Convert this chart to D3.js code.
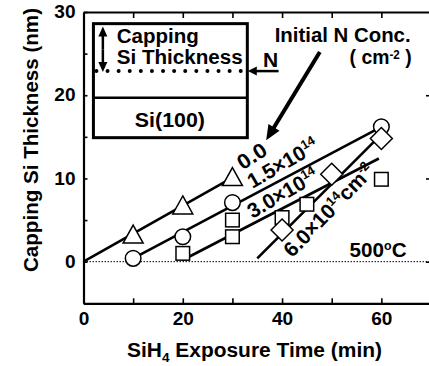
<!DOCTYPE html>
<html><head><meta charset="utf-8">
<script src="https://cdn.jsdelivr.net/npm/d3@7"></script>
<style>
html,body{margin:0;padding:0;background:#fff;}
svg{display:block;}
text{font-family:"Liberation Sans",Arial,Helvetica,sans-serif;font-weight:bold;fill:#000;}
</style></head>
<body>
<script>
// ---- data ----
const triX = [10, 20, 30];
const triY = [3.2, 6.7, 10.1];
const circX = [10, 20, 30, 60];
const circY = [0.4, 3.0, 7.1, 16.2];
const sqX = [20, 30, 30, 40, 45, 60];
const sqY = [1.0, 3.0, 5.0, 5.3, 6.9, 9.9];
const diaX = [40, 50, 60];
const diaY = [3.8, 10.5, 14.8];
// fitted lines (start / end) for each initial N concentration
const lineNames = ["0.0", "1.5", "3.0", "6.0"];
const lineX = [[0, 30], [10, 60], [20, 59.5], [35, 60]];
const lineY = [[0, 10.1], [0.4, 16.2], [0.2, 12.4], [0.4, 15.3]];
const xTicks = [0, 10, 20, 30, 40, 50, 60];
const xTickLabels = [0, 20, 40, 60];
const yTicks = [-5, 0, 5, 10, 15, 20, 25, 30];
const yTickLabels = [0, 10, 20, 30];

const W = 429, H = 366;
const svg = d3.select("body").append("svg").attr("width", W).attr("height", H);
const x = d3.scaleLinear([0, 70], [83.5, 431]);
const y = d3.scaleLinear([-5, 30], [303.3, 12]);

function fit(sel, len) { return sel.attr("textLength", len).attr("lengthAdjust", "spacingAndGlyphs"); }

// zero reference line (dotted)
svg.append("line").attr("x1", x(0)).attr("x2", x(70)).attr("y1", y(0)).attr("y2", y(0))
  .attr("stroke", "#000").attr("stroke-width", 1).attr("stroke-dasharray", "1.5,1.5");

// axes
function styleAxis(g) {
  g.select(".domain").attr("stroke-width", 2.2);
  g.selectAll(".tick line").attr("stroke-width", 1.6);
  g.selectAll("text").attr("font-size", 18).attr("font-family", '"Liberation Sans",Arial,sans-serif').attr("font-weight", "bold");
  g.selectAll("text").each(function () {
    const t = d3.select(this); const s = t.text();
    if (s.length) fit(t, s.length * 10.6);
  });
}
svg.append("g").attr("transform", `translate(0,${y(-5)})`)
  .call(d3.axisBottom(x).tickValues(xTicks).tickSizeInner(-5).tickSizeOuter(0).tickPadding(9)
    .tickFormat(d => xTickLabels.includes(d) ? d : ""))
  .call(styleAxis);
svg.append("g").attr("transform", `translate(${x(0)},0)`)
  .call(d3.axisLeft(y).tickValues(yTicks).tickSizeInner(-4).tickSizeOuter(0).tickPadding(8)
    .tickFormat(d => yTickLabels.includes(d) ? d : ""))
  .call(styleAxis);
svg.append("g").attr("transform", `translate(0,${y(30)})`)
  .call(d3.axisTop(x).tickValues(xTicks.slice(1)).tickSizeInner(-6).tickSizeOuter(0).tickFormat(""))
  .call(styleAxis);
svg.append("g").attr("transform", `translate(${x(70)},0)`)
  .call(d3.axisRight(y).tickValues([0, 10, 20]).tickSizeInner(-5).tickSizeOuter(0).tickFormat(""))
  .call(styleAxis);

// axis titles
const xt = svg.append("text").attr("x", 127).attr("y", 357).attr("font-size", 20);
xt.append("tspan").text("SiH");
xt.append("tspan").text("4").attr("font-size", 13).attr("dy", 5);
xt.append("tspan").text(" Exposure Time (min)").attr("dy", -5);
fit(xt, 255);
fit(svg.append("text").attr("transform", `translate(38,140) rotate(-90)`)
  .attr("text-anchor", "middle").attr("font-size", 20).text("Capping Si Thickness (nm)"), 264);

// fitted lines
const lines = svg.append("g");
lineNames.forEach((n, i) => {
  lines.append("line").attr("x1", x(lineX[i][0])).attr("y1", y(lineY[i][0]))
    .attr("x2", x(lineX[i][1])).attr("y2", y(lineY[i][1]))
    .attr("stroke", "#000").attr("stroke-width", 2.6);
});

// markers
const mk = svg.append("g").attr("fill", "#fff").attr("stroke", "#000").attr("stroke-width", 1.5);
triX.forEach((v, i) => {
  const cx = x(v), cy = y(triY[i]);
  mk.append("path").attr("d", `M${cx},${cy - 10}L${cx + 10},${cy + 8}L${cx - 10},${cy + 8}Z`);
});
circX.forEach((v, i) => {
  mk.append("circle").attr("cx", x(v)).attr("cy", y(circY[i])).attr("r", 7.8);
});
sqX.forEach((v, i) => {
  mk.append("rect").attr("x", x(v) - 6.8).attr("y", y(sqY[i]) - 6.8).attr("width", 13.6).attr("height", 13.6);
});
diaX.forEach((v, i) => {
  const cx = x(v), cy = y(diaY[i]);
  mk.append("path").attr("d", `M${cx},${cy - 11}L${cx + 11},${cy}L${cx},${cy + 11}L${cx - 11},${cy}Z`);
});

// rotated line labels
function rotLabel(dx, dy, ang, len, parts) {
  const t = svg.append("text").attr("text-anchor", "middle").attr("font-size", 21)
    .attr("transform", `translate(${x(dx)},${y(dy)}) rotate(${ang})`).attr("dy", "0.35em");
  parts.forEach(p => {
    const s = t.append("tspan").text(p.t);
    if (p.sup) s.attr("font-size", 13).attr("dy", p.dy);
    else if (p.dy) s.attr("dy", p.dy);
  });
  if (len) fit(t, len);
}
rotLabel(33.9, 12.7, -33, 31, [{t: "0.0"}]);
rotLabel(40.1, 11.85, -30, 78, [{t: "1.5×10"}, {t: "14", sup: true, dy: -8}]);
rotLabel(40.1, 8.25, -30, 78, [{t: "3.0×10"}, {t: "14", sup: true, dy: -8}]);
rotLabel(49.4, 6.2, -46, 120, [{t: "6.0×10"}, {t: "14", sup: true, dy: -8}, {t: "cm", dy: 8}, {t: "-2", sup: true, dy: -8}]);

// temperature
const tt = svg.append("text").attr("x", x(53.6)).attr("y", y(0.53)).attr("font-size", 20);
tt.append("tspan").text("500");
tt.append("tspan").text("o").attr("font-size", 12).attr("dy", -7);
tt.append("tspan").text("C").attr("dy", 7);
fit(tt, 57);

// ---- inset schematic ----
const ins = {x0: 2, x1: 33, yTop: 28.6, yBot: 14.9, yDiv: 19.7, yN: 22.9};
const g = svg.append("g");
g.append("rect").attr("x", x(ins.x0)).attr("y", y(ins.yTop))
  .attr("width", x(ins.x1) - x(ins.x0)).attr("height", y(ins.yBot) - y(ins.yTop))
  .attr("fill", "#fff").attr("stroke", "#000").attr("stroke-width", 3);
g.append("line").attr("x1", x(ins.x0)).attr("x2", x(ins.x1)).attr("y1", y(ins.yDiv)).attr("y2", y(ins.yDiv))
  .attr("stroke", "#000").attr("stroke-width", 2.5);
g.append("line").attr("x1", x(ins.x0) + 3).attr("x2", x(ins.x1)).attr("y1", y(ins.yN)).attr("y2", y(ins.yN))
  .attr("stroke", "#000").attr("stroke-width", 4).attr("stroke-linecap", "round").attr("stroke-dasharray", "0 11.1");

function arrow(x1, y1, x2, y2, len, wid, sw) {
  const a = Math.atan2(y2 - y1, x2 - x1);
  const bx = x2 - len * Math.cos(a), by = y2 - len * Math.sin(a);
  g.append("line").attr("x1", x1).attr("y1", y1).attr("x2", bx + Math.cos(a)).attr("y2", by + Math.sin(a))
    .attr("stroke", "#000").attr("stroke-width", sw);
  const px = -Math.sin(a) * wid / 2, py = Math.cos(a) * wid / 2;
  g.append("path").attr("d", `M${x2},${y2}L${bx + px},${by + py}L${bx - px},${by - py}Z`).attr("fill", "#000");
}
// double-headed thickness arrow
const ax = x(3.9), ayTop = y(28.25), ayBot = y(22.8), ayMid = (ayTop + ayBot) / 2;
arrow(ax, ayMid, ax, ayTop, 10, 9, 2.5);
arrow(ax, ayMid, ax, ayBot, 10, 9, 2.5);
// N arrow
arrow(x(39.3), y(ins.yN), x(33.1), y(ins.yN), 9, 9, 2.5);
g.append("text").attr("x", x(37.7)).attr("y", y(23.35)).attr("text-anchor", "middle").attr("font-size", 21).text("N");
// big pointer arrow
arrow(x(47.6), y(25.2), x(36.8), y(14.6), 15, 13, 4);

fit(g.append("text").attr("x", x(6.7)).attr("y", y(26.3)).attr("font-size", 20).text("Capping"), 82);
fit(g.append("text").attr("x", x(6.7)).attr("y", y(23.8)).attr("font-size", 20).text("Si Thickness"), 126);
fit(g.append("text").attr("x", x(17.4)).attr("y", y(16.2)).attr("text-anchor", "middle").attr("font-size", 20).text("Si(100)"), 70);
fit(g.append("text").attr("x", x(38.5)).attr("y", y(26.35)).attr("font-size", 20).text("Initial N Conc."), 136);
const cm = g.append("text").attr("x", x(53.6)).attr("y", y(23.75)).attr("font-size", 20);
cm.append("tspan").text("( cm");
cm.append("tspan").text("-2").attr("font-size", 12).attr("dy", -5);
cm.append("tspan").text(" )").attr("dy", 5);
fit(cm, 62);
</script>
</body></html>
